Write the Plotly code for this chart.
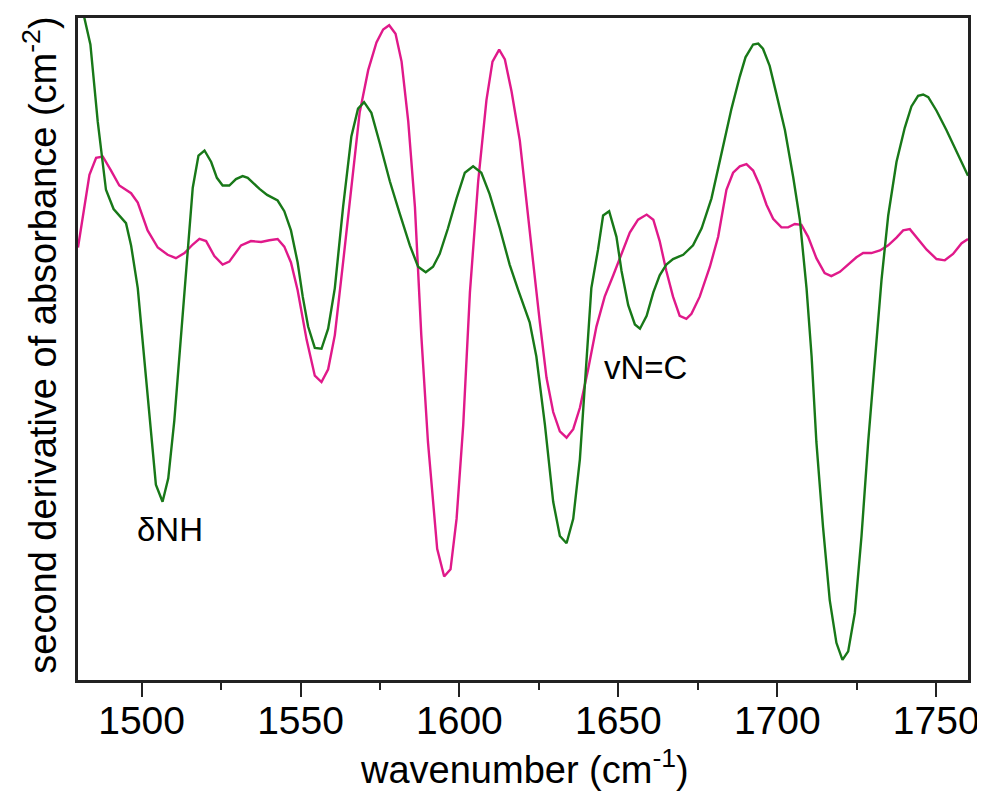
import plotly.graph_objects as go

# Wavenumber (cm^-1) and second-derivative values (arbitrary units)
green_x = [1480.0, 1483.9, 1486.2, 1488.8, 1491.2, 1495.1, 1496.7, 1498.8, 1501.4, 1504.5,
           1506.6, 1508.4, 1510.3, 1513.5, 1516.1, 1517.9, 1519.8, 1521.9, 1523.7, 1525.5,
           1527.6, 1529.7, 1531.8, 1533.4, 1537.1, 1539.5, 1542.8, 1544.9, 1547.0, 1549.1,
           1550.7, 1552.4, 1554.5, 1556.6, 1558.7, 1560.8, 1563.4, 1566.0, 1568.1, 1570.0,
           1572.3, 1574.9, 1578.1, 1581.2, 1584.4, 1587.0, 1589.4, 1591.7, 1593.8, 1596.4,
           1599.1, 1601.7, 1604.3, 1606.9, 1609.5, 1612.7, 1615.8, 1618.5, 1620.6, 1622.1,
           1624.2, 1626.9, 1629.5, 1631.6, 1633.7, 1635.8, 1637.9, 1640.0, 1641.5, 1643.6,
           1645.2, 1647.1, 1649.4, 1651.0, 1653.1, 1655.2, 1656.8, 1658.9, 1661.0, 1663.0,
           1665.1, 1667.2, 1670.4, 1673.5, 1676.2, 1679.3, 1682.4, 1685.6, 1688.2, 1690.0,
           1692.4, 1694.0, 1695.5, 1697.6, 1699.7, 1702.4, 1705.0, 1707.1, 1709.2, 1710.8,
           1712.3, 1714.4, 1716.5, 1718.6, 1720.5, 1722.3, 1724.4, 1726.5, 1728.6, 1730.7,
           1732.8, 1734.9, 1737.5, 1740.1, 1742.2, 1744.3, 1745.9, 1747.5, 1750.1, 1753.2,
           1756.4, 1760.0]
green_y = [840, 712, 532, 372, 327, 294, 242, 142, -68, -318,
           -358, -303, -168, 132, 377, 452, 464, 437, 400, 382,
           382, 397, 404, 400, 374, 360, 347, 322, 277, 202,
           122, 52, 2, 0, 47, 142, 332, 497, 562, 577,
           552, 482, 392, 317, 242, 192, 179, 192, 222, 282,
           352, 412, 427, 412, 362, 282, 197, 137, 92, 62,
           -18, -178, -358, -438, -455, -398, -258, -18, 142, 232,
           312, 322, 262, 182, 102, 57, 47, 77, 132, 172,
           197, 210, 220, 242, 282, 352, 452, 562, 637, 682,
           712, 714, 702, 662, 597, 512, 402, 302, 142, -18,
           -218, -418, -588, -688, -728, -708, -618, -438, -218, -18,
           162, 312, 437, 517, 567, 592, 595, 589, 557, 512,
           462, 405]

pink_x = [1480.0, 1481.5, 1483.6, 1485.7, 1487.8, 1490.4, 1493.0, 1496.7, 1498.8, 1501.9,
          1505.1, 1508.2, 1510.8, 1513.5, 1516.1, 1518.2, 1520.3, 1522.9, 1525.5, 1527.6,
          1531.3, 1534.4, 1537.6, 1540.2, 1542.8, 1544.9, 1547.0, 1549.1, 1550.7, 1551.9,
          1554.5, 1556.6, 1558.7, 1560.8, 1563.4, 1566.0, 1568.6, 1571.3, 1573.9, 1576.0,
          1577.9, 1579.9, 1581.8, 1583.9, 1586.0, 1588.0, 1590.1, 1593.0, 1595.2, 1597.2,
          1599.1, 1601.2, 1603.3, 1605.9, 1608.5, 1610.4, 1612.5, 1614.3, 1616.4, 1619.0,
          1621.1, 1623.2, 1625.3, 1627.4, 1629.5, 1631.6, 1633.7, 1635.8, 1637.9, 1640.5,
          1643.1, 1645.7, 1648.4, 1651.0, 1653.6, 1656.2, 1658.9, 1661.0, 1663.0, 1665.1,
          1667.2, 1669.3, 1671.4, 1673.0, 1675.6, 1678.8, 1681.4, 1684.0, 1686.1, 1688.2,
          1690.3, 1692.4, 1694.5, 1696.6, 1698.7, 1701.3, 1703.4, 1705.5, 1707.6, 1709.7,
          1712.3, 1714.9, 1717.0, 1719.7, 1722.3, 1724.9, 1727.0, 1729.6, 1732.3, 1734.9,
          1737.5, 1739.6, 1741.7, 1743.8, 1747.0, 1750.1, 1752.7, 1755.3, 1758.0, 1760.0]
pink_y = [237, 312, 407, 447, 450, 417, 382, 364, 342, 277,
          237, 220, 212, 224, 244, 257, 252, 217, 197, 204,
          242, 252, 250, 254, 257, 239, 202, 137, 72, 22,
          -63, -78, -48, 32, 202, 382, 552, 652, 717, 747,
          757, 737, 672, 532, 332, 32, -218, -468, -533, -516,
          -398, -178, 132, 392, 582, 672, 700, 677, 602, 487,
          352, 202, 62, -68, -148, -193, -208, -188, -138, -48,
          52, 122, 172, 222, 272, 302, 314, 302, 252, 182,
          122, 77, 70, 82, 122, 192, 262, 372, 412, 427,
          432, 417, 382, 337, 304, 284, 284, 292, 290, 262,
          212, 177, 170, 180, 197, 214, 224, 224, 230, 242,
          260, 277, 280, 262, 232, 210, 207, 222, 247, 257]

x_ticks = [1500, 1550, 1600, 1650, 1700, 1750]
x_range = [1480, 1760]
y_range = [-775, 774]

labels = ["δNH", "vN=C"]
label_x = [1508.9, 1658.4]
label_y = [-422, -44]

x_title = "wavenumber (cm<sup>-1</sup>)"
y_title = "second derivative of absorbance (cm<sup>-2</sup>)"

FONT = "Liberation Sans, Arial, sans-serif"

fig = go.Figure()
fig.add_trace(go.Scatter(x=pink_x, y=pink_y, mode="lines",
                         line=dict(color="#e0198a", width=2.4), showlegend=False))
fig.add_trace(go.Scatter(x=green_x, y=green_y, mode="lines",
                         line=dict(color="#187818", width=2.4), showlegend=False))

for t, ax, ay in zip(labels, label_x, label_y):
    fig.add_annotation(x=ax, y=ay, text=t, showarrow=False,
                       font=dict(family=FONT, size=33, color="black"))

# axis titles placed as paper-referenced annotations for exact positioning
fig.add_annotation(xref="paper", yref="paper", x=0.502, y=-0.131, text=x_title,
                   showarrow=False, xanchor="center", yanchor="middle",
                   font=dict(family=FONT, size=38, color="black"))
fig.add_annotation(xref="paper", yref="paper", x=-0.043, y=0.506, text=y_title,
                   showarrow=False, xanchor="center", yanchor="middle", textangle=-90,
                   font=dict(family=FONT, size=38, color="black"))

# the page body adds an 8 px offset, so margins are reduced on the left/top to compensate
fig.update_layout(
    width=985, height=792,
    margin=dict(l=70, r=25, t=10, b=120, autoexpand=False),
    paper_bgcolor="white", plot_bgcolor="white",
    font=dict(family=FONT, color="black"),
)
fig.update_xaxes(
    range=x_range, tickvals=x_ticks, ticks="outside", ticklen=14, tickwidth=2,
    tickcolor="#222", showline=True, linecolor="#222", linewidth=2.5, mirror=True,
    showgrid=False, zeroline=False, automargin=False, ticklabelstandoff=-10,
    tickfont=dict(family=FONT, size=39, color="black"),
    minor=dict(dtick=50, tick0=1525, ticks="outside", ticklen=7, tickwidth=2, tickcolor="#222"),
)
fig.update_yaxes(
    range=y_range, showticklabels=False, ticks="", showline=True, linecolor="#222",
    linewidth=2.5, mirror=True, showgrid=False, zeroline=False, automargin=False,
)

fig.write_html("out.html")
